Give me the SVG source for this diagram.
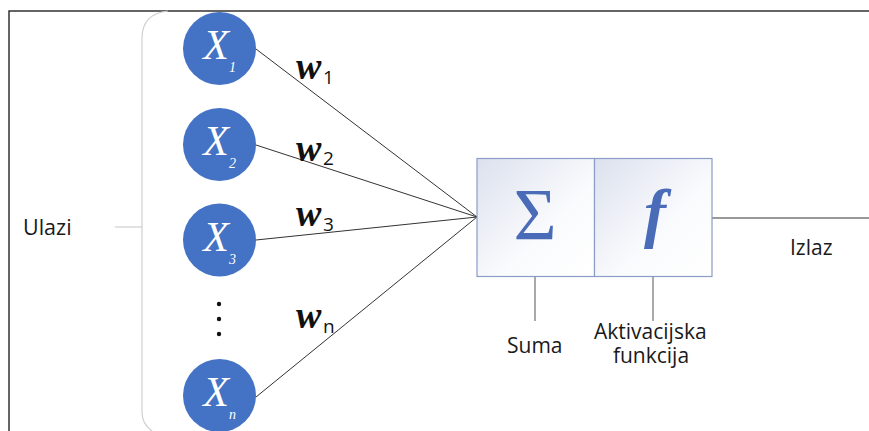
<svg xmlns="http://www.w3.org/2000/svg" width="869" height="431" viewBox="0 0 869 431">
<defs>
<linearGradient id="boxg" x1="0" y1="0" x2="1" y2="1">
<stop offset="0" stop-color="#dce1ee"/>
<stop offset="0.6" stop-color="#fafbfd"/>
<stop offset="1" stop-color="#ffffff"/>
</linearGradient>
<style>
.frame{fill:none;stroke:#333;stroke-width:1.5}
.brace{fill:none;stroke:#cfcfcf;stroke-width:1.2}
.node circle{fill:#4472c4}
.xl{font-family:"Liberation Serif",serif;font-style:italic;fill:#fff;font-size:42px;text-anchor:middle}
.xs{font-family:"Liberation Serif",serif;font-style:italic;fill:#fff;font-size:14px}
.edge{stroke:#333;stroke-width:1;fill:none}
.w{font-family:"Liberation Serif",serif;font-style:italic;font-weight:bold;font-size:38px;fill:#111}
.ws{font-family:"Open Sans",sans-serif;font-size:19px;fill:#111}
.box{fill:url(#boxg);stroke:#8c9cc8;stroke-width:1.2}
.sym{font-family:"Liberation Serif",serif;fill:#4a6cb8;text-anchor:middle}
.lbl{font-family:"Open Sans",sans-serif;font-size:21px;fill:#1a1a1a}
.tick{stroke:#555;stroke-width:1}
.out{stroke:#777;stroke-width:1.5}
</style>
</defs>
<rect width="869" height="431" fill="#fff"/>
<path class="frame" d="M9 431 L9 11 L869 11"/>
<path class="brace" d="M168 11 Q142 14 142 38 L142 412 Q142 424 152 431"/>
<line x1="115" y1="227" x2="142" y2="227" stroke="#cfcfcf" stroke-width="1.2"/>
<text class="lbl" x="23" y="235" style="font-size:21.5px">Ulazi</text>

<g id="connectors">
<line class="edge" x1="256" y1="49" x2="477" y2="217"/>
<line class="edge" x1="256" y1="145" x2="477" y2="217"/>
<line class="edge" x1="256" y1="240" x2="477" y2="217"/>
<line class="edge" x1="256" y1="397" x2="477" y2="217"/>
<line class="out" x1="712" y1="218" x2="869" y2="218"/>
<line class="tick" x1="535" y1="277" x2="535" y2="321"/>
<line class="tick" x1="653" y1="277" x2="653" y2="321"/>
</g>

<g id="x1" class="node">
<circle cx="219.5" cy="48.5" r="36.5"/>
<text class="xl" x="216" y="59">X</text>
<text class="xs" x="229" y="72">1</text>
</g>
<g id="x2" class="node">
<circle cx="219.5" cy="144.5" r="36.5"/>
<text class="xl" x="216" y="155">X</text>
<text class="xs" x="229" y="168">2</text>
</g>
<g id="x3" class="node">
<circle cx="219.5" cy="240" r="36.5"/>
<text class="xl" x="216" y="251">X</text>
<text class="xs" x="229" y="264">3</text>
</g>
<g id="dots">
<circle cx="219" cy="304" r="2.2" fill="#111"/>
<circle cx="219" cy="319" r="2.2" fill="#111"/>
<circle cx="219" cy="334" r="2.2" fill="#111"/>
</g>
<g id="xn" class="node">
<circle cx="219.5" cy="395.5" r="36.5"/>
<text class="xl" x="216" y="406">X</text>
<text class="xs" x="229" y="419">n</text>
</g>

<g id="w1"><text class="w" x="296" y="79">w</text><text class="ws" x="323" y="84">1</text></g>
<g id="w2"><text class="w" x="296" y="161">w</text><text class="ws" x="323" y="165">2</text></g>
<g id="w3"><text class="w" x="296" y="226">w</text><text class="ws" x="323" y="231">3</text></g>
<g id="wn"><text class="w" x="296" y="328">w</text><text class="ws" x="323" y="333">n</text></g>

<g id="sum">
<rect class="box" x="477" y="158.5" width="117.5" height="118"/>
<text class="sym" x="535" y="240" style="font-size:74px">Σ</text>
</g>
<g id="activation">
<rect class="box" x="594.5" y="158.5" width="117.5" height="118"/>
<text class="sym" x="655" y="235" style="font-size:66px;font-style:italic;font-weight:bold">f</text>
</g>

<text class="lbl" x="507" y="353">Suma</text>
<text class="lbl" x="594" y="339">Aktivacijska</text>
<text class="lbl" x="651" y="363" text-anchor="middle">funkcija</text>
<text class="lbl" x="790" y="255">Izlaz</text>
</svg>
